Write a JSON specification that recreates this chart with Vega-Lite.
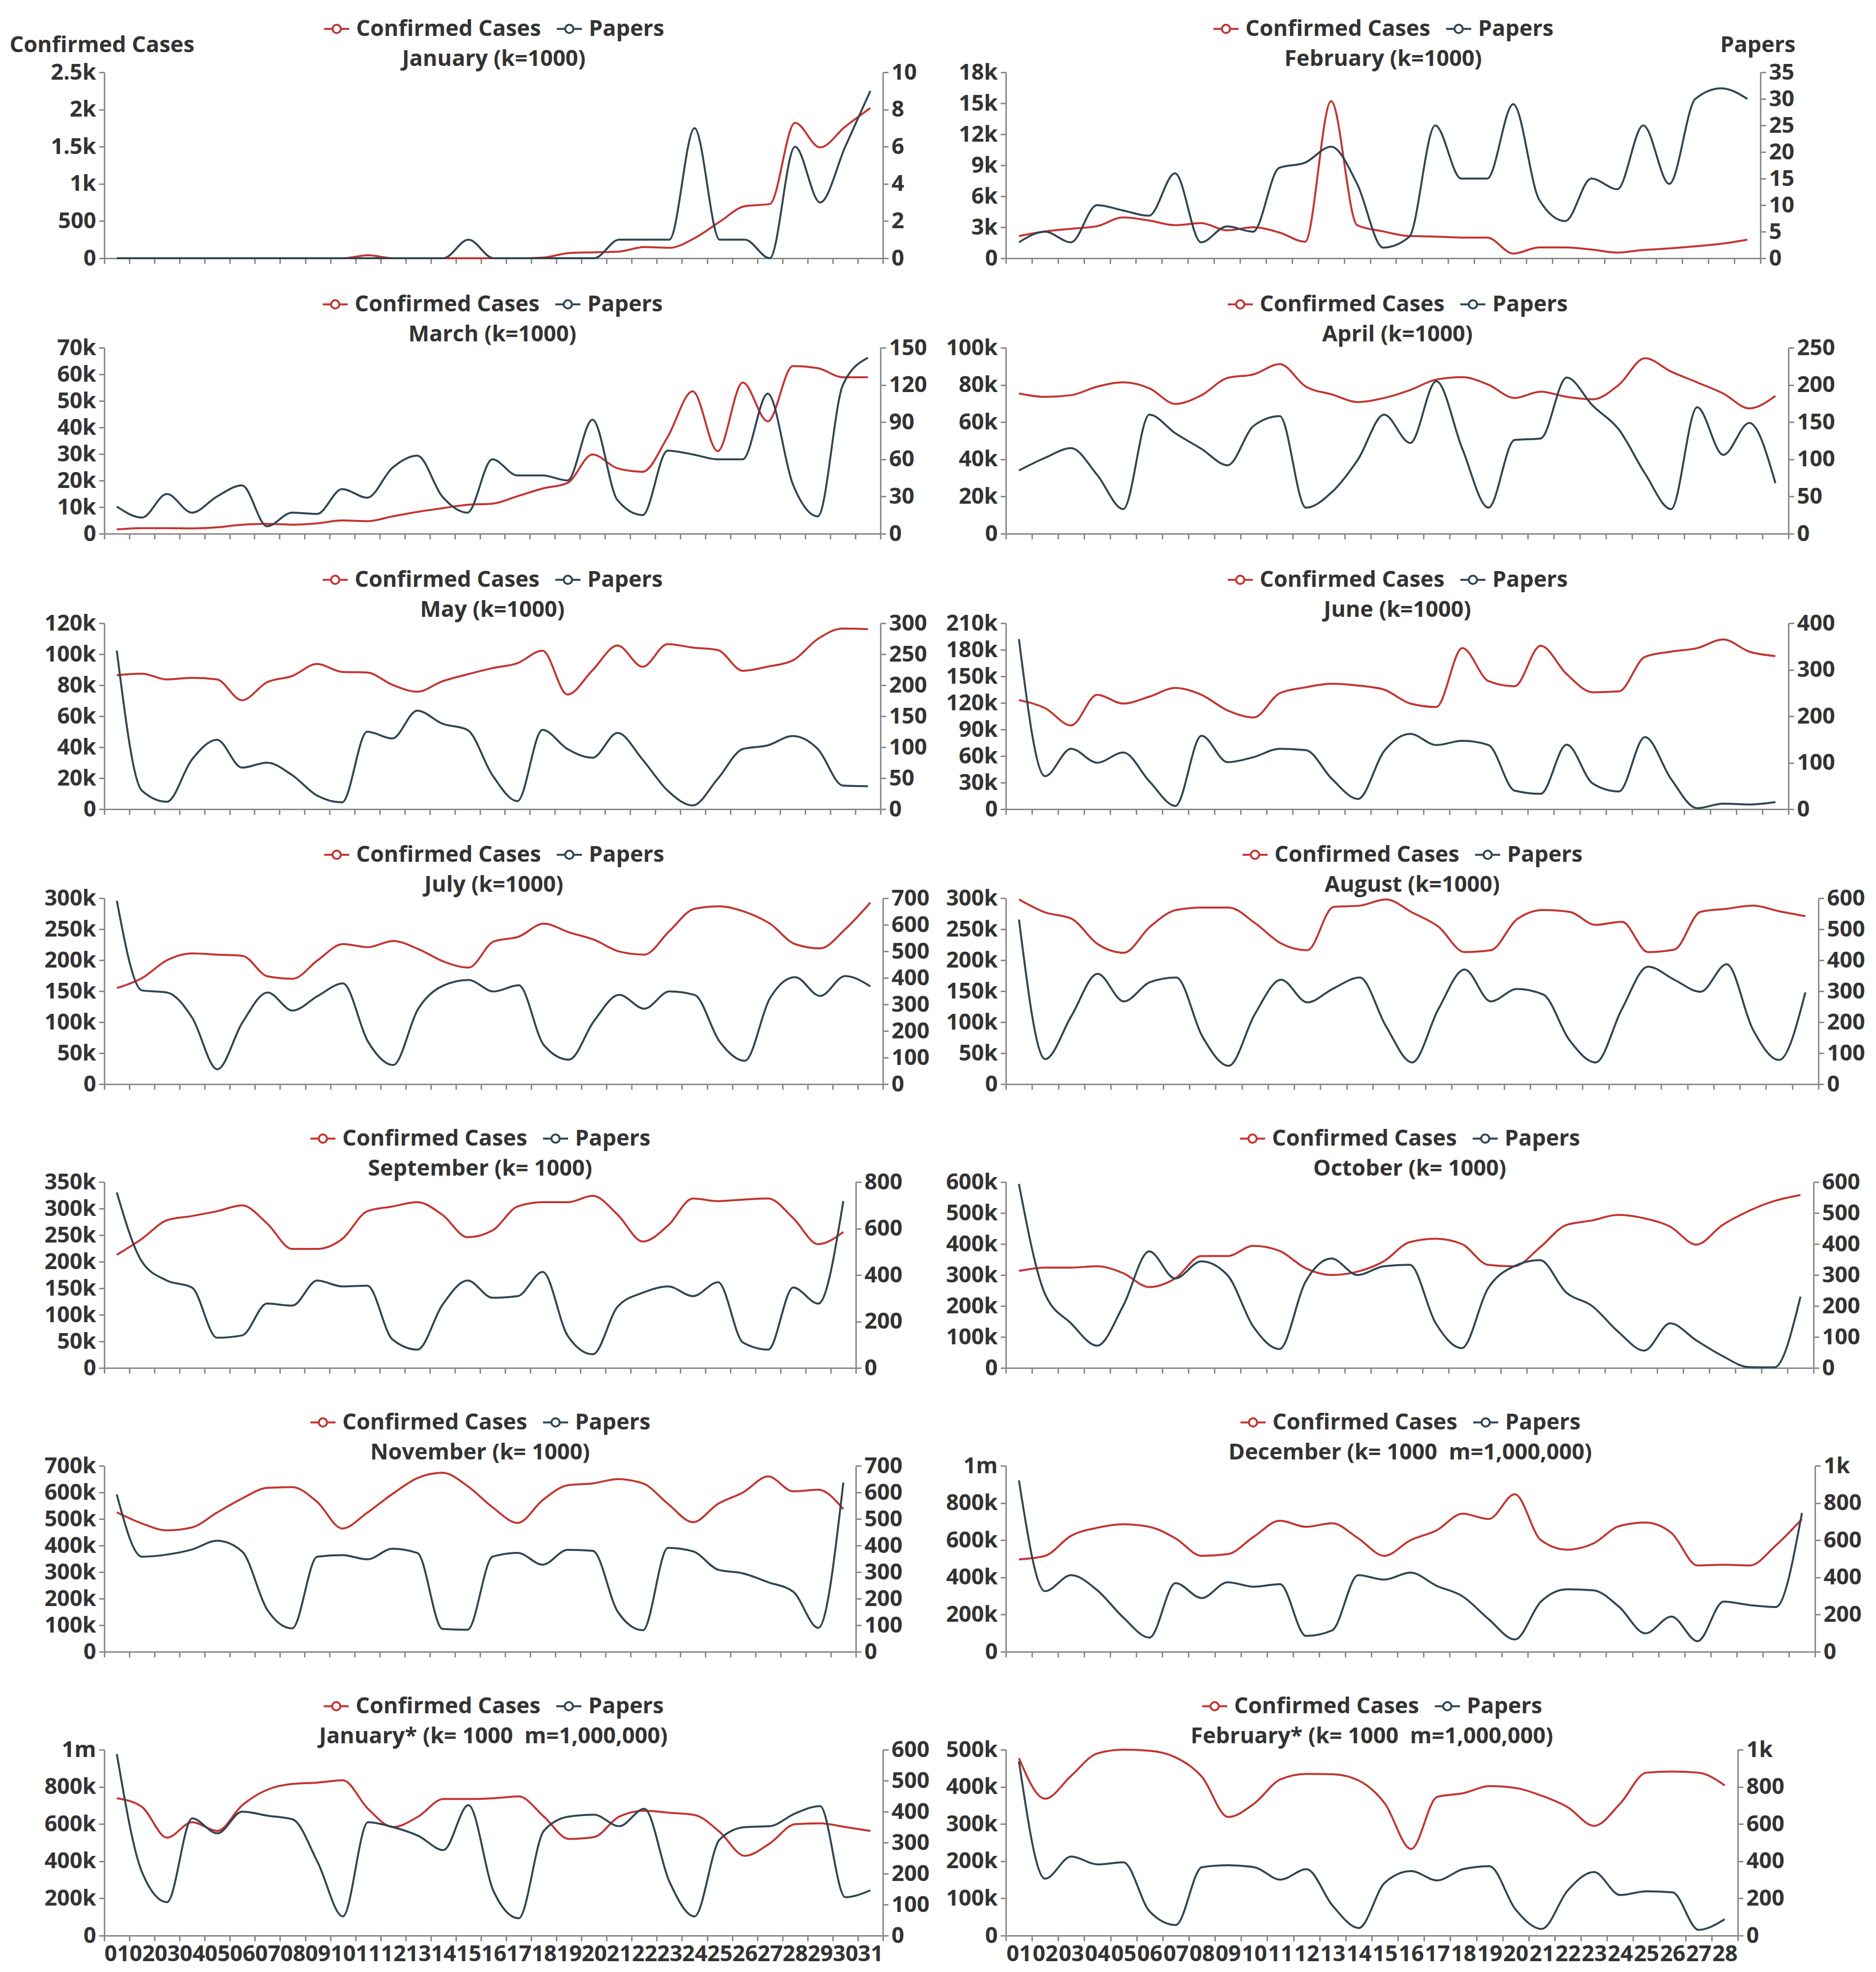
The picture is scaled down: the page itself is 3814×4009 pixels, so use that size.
{
"$schema": "https://vega.github.io/schema/vega-lite/v6.json",
"background": "white",
"padding": {"left": 19, "top": 31, "right": 10, "bottom": 5},
"bounds": "flush",
"spacing": 1679,
"resolve": {"scale": {"color": "independent"}, "legend": {"color": "independent"}},
"config": {
  "view": {"stroke": null},
  "font": "Open Sans",
  "axis": {"grid": false, "domainColor": "#8a8a8a", "domainWidth": 3, "tickColor": "#8a8a8a", "tickWidth": 3, "tickSize": 11,
           "labelFont": "Open Sans", "labelFontSize": 45, "labelFontWeight": "bold", "labelColor": "#333333", "labelPadding": 6,
           "titleFont": "Open Sans", "titleFontSize": 45, "titleFontWeight": "bold", "titleColor": "#333333"},
  "axisY": {"labelExpr": "datum.value >= 1000000 ? (datum.value / 1000000) + 'm' : datum.value >= 1000 ? (datum.value / 1000) + 'k' : '' + datum.value"},
  "axisX": {"labelOverlap": false, "labelBound": false, "labelAngle": 0, "labelPadding": 4},
  "legend": {"orient": "top", "direction": "horizontal", "titleOrient": "bottom", "titleAnchor": "middle",
             "titleFont": "Open Sans", "titleFontSize": 45, "titleFontWeight": "bold", "titleColor": "#333333", "titlePadding": 16, "titleLimit": 3000,
             "labelFont": "Open Sans", "labelFontSize": 45, "labelFontWeight": "bold", "labelColor": "#333333", "labelLimit": 2000,
             "symbolType": "M-1,0H-0.33M0.33,0H1M-0.33,0A0.33,0.33,0,1,0,0.33,0A0.33,0.33,0,1,0,-0.33,0",
             "symbolSize": 2600, "symbolStrokeWidth": 3, "labelOffset": 12, "columnPadding": 24, "offset": 4,
             "layout": {"top": {"anchor": "middle"}}},
  "line": {"interpolate": "monotone", "strokeWidth": 4}
},
"datasets": {
"jan": [{"d":"01","c":0,"p":0},{"d":"02","c":0,"p":0},{"d":"03","c":0,"p":0},{"d":"04","c":0,"p":0},{"d":"05","c":0,"p":0},{"d":"06","c":0,"p":0},{"d":"07","c":0,"p":0},{"d":"08","c":0,"p":0},{"d":"09","c":0,"p":0},{"d":"10","c":0,"p":0},{"d":"11","c":40,"p":0},{"d":"12","c":0,"p":0},{"d":"13","c":0,"p":0},{"d":"14","c":0,"p":0},{"d":"15","c":0,"p":1},{"d":"16","c":0,"p":0},{"d":"17","c":0,"p":0},{"d":"18","c":10,"p":0},{"d":"19","c":70,"p":0},{"d":"20","c":80,"p":0},{"d":"21","c":90,"p":1},{"d":"22","c":150,"p":1},{"d":"23","c":140,"p":1},{"d":"24","c":270,"p":7},{"d":"25","c":490,"p":1},{"d":"26","c":700,"p":1},{"d":"27","c":730,"p":0},{"d":"28","c":1820,"p":6},{"d":"29","c":1490,"p":3},{"d":"30","c":1770,"p":6},{"d":"31","c":2020,"p":9}],
"feb": [{"d":"01","c":2150,"p":3},{"d":"02","c":2600,"p":5},{"d":"03","c":2850,"p":3},{"d":"04","c":3100,"p":10},{"d":"05","c":3950,"p":9},{"d":"06","c":3650,"p":8},{"d":"07","c":3200,"p":16},{"d":"08","c":3400,"p":3},{"d":"09","c":2700,"p":6},{"d":"10","c":3000,"p":5},{"d":"11","c":2500,"p":17},{"d":"12","c":1600,"p":18},{"d":"13","c":15200,"p":21},{"d":"14","c":3200,"p":14},{"d":"15","c":2600,"p":2},{"d":"16","c":2150,"p":4},{"d":"17","c":2100,"p":25},{"d":"18","c":2000,"p":15},{"d":"19","c":2000,"p":15},{"d":"20","c":450,"p":29},{"d":"21","c":1050,"p":11},{"d":"22","c":1050,"p":7},{"d":"23","c":850,"p":15},{"d":"24","c":550,"p":13},{"d":"25","c":800,"p":25},{"d":"26","c":950,"p":14},{"d":"27","c":1150,"p":30},{"d":"28","c":1400,"p":32},{"d":"29","c":1800,"p":30}],
"mar": [{"d":"01","c":1600,"p":22},{"d":"02","c":2100,"p":13},{"d":"03","c":2100,"p":32},{"d":"04","c":2000,"p":17},{"d":"05","c":2400,"p":30},{"d":"06","c":3400,"p":39},{"d":"07","c":3700,"p":6},{"d":"08","c":3400,"p":17},{"d":"09","c":3900,"p":16},{"d":"10","c":5000,"p":36},{"d":"11","c":4700,"p":29},{"d":"12","c":6500,"p":53},{"d":"13","c":8200,"p":63},{"d":"14","c":9600,"p":30},{"d":"15","c":10900,"p":17},{"d":"16","c":11300,"p":60},{"d":"17","c":14100,"p":47},{"d":"18","c":17000,"p":47},{"d":"19","c":19100,"p":43},{"d":"20","c":29800,"p":92},{"d":"21","c":24600,"p":27},{"d":"22","c":23300,"p":15},{"d":"23","c":36400,"p":67},{"d":"24","c":53600,"p":64},{"d":"25","c":31100,"p":60},{"d":"26","c":56900,"p":60},{"d":"27","c":42300,"p":113},{"d":"28","c":63100,"p":40},{"d":"29","c":62300,"p":14},{"d":"30","c":58900,"p":120},{"d":"31","c":58900,"p":142}],
"apr": [{"d":"01","c":75400,"p":85},{"d":"02","c":73600,"p":102},{"d":"03","c":74500,"p":115},{"d":"04","c":79100,"p":79},{"d":"05","c":81400,"p":33},{"d":"06","c":78200,"p":160},{"d":"07","c":69800,"p":135},{"d":"08","c":74500,"p":114},{"d":"09","c":83800,"p":92},{"d":"10","c":85700,"p":145},{"d":"11","c":91200,"p":158},{"d":"12","c":79100,"p":35},{"d":"13","c":74900,"p":56},{"d":"14","c":70800,"p":100},{"d":"15","c":73000,"p":160},{"d":"16","c":77300,"p":122},{"d":"17","c":82900,"p":205},{"d":"18","c":84200,"p":114},{"d":"19","c":80100,"p":35},{"d":"20","c":73000,"p":126},{"d":"21","c":76400,"p":128},{"d":"22","c":73600,"p":210},{"d":"23","c":72300,"p":172},{"d":"24","c":80100,"p":140},{"d":"25","c":94400,"p":81},{"d":"26","c":87200,"p":33},{"d":"27","c":81400,"p":170},{"d":"28","c":75400,"p":106},{"d":"29","c":67400,"p":149},{"d":"30","c":74100,"p":68}],
"may": [{"d":"01","c":86400,"p":256},{"d":"02","c":87500,"p":30},{"d":"03","c":83700,"p":12},{"d":"04","c":84800,"p":80},{"d":"05","c":83700,"p":112},{"d":"06","c":70300,"p":67},{"d":"07","c":81900,"p":75},{"d":"08","c":85900,"p":55},{"d":"09","c":93700,"p":22},{"d":"10","c":88600,"p":11},{"d":"11","c":88200,"p":125},{"d":"12","c":80300,"p":114},{"d":"13","c":75800,"p":159},{"d":"14","c":82500,"p":138},{"d":"15","c":87000,"p":128},{"d":"16","c":91000,"p":55},{"d":"17","c":94200,"p":13},{"d":"18","c":102300,"p":128},{"d":"19","c":74000,"p":97},{"d":"20","c":89700,"p":83},{"d":"21","c":105600,"p":123},{"d":"22","c":91900,"p":80},{"d":"23","c":106500,"p":30},{"d":"24","c":104300,"p":6},{"d":"25","c":102700,"p":49},{"d":"26","c":89300,"p":97},{"d":"27","c":92000,"p":103},{"d":"28","c":96000,"p":118},{"d":"29","c":109900,"p":97},{"d":"30","c":116600,"p":38},{"d":"31","c":116200,"p":37}],
"jun": [{"d":"01","c":123200,"p":366},{"d":"02","c":114200,"p":71},{"d":"03","c":94600,"p":130},{"d":"04","c":129100,"p":100},{"d":"05","c":119300,"p":122},{"d":"06","c":127100,"p":60},{"d":"07","c":136900,"p":7},{"d":"08","c":129100,"p":158},{"d":"09","c":111500,"p":101},{"d":"10","c":103600,"p":112},{"d":"11","c":131000,"p":130},{"d":"12","c":137700,"p":127},{"d":"13","c":141600,"p":65},{"d":"14","c":139600,"p":22},{"d":"15","c":135000,"p":125},{"d":"16","c":119300,"p":162},{"d":"17","c":115400,"p":138},{"d":"18","c":181900,"p":147},{"d":"19","c":144700,"p":138},{"d":"20","c":138800,"p":40},{"d":"21","c":184600,"p":33},{"d":"22","c":152500,"p":139},{"d":"23","c":132000,"p":55},{"d":"24","c":133000,"p":38},{"d":"25","c":172000,"p":155},{"d":"26","c":177900,"p":65},{"d":"27","c":181900,"p":2},{"d":"28","c":191700,"p":12},{"d":"29","c":177900,"p":10},{"d":"30","c":172900,"p":15}],
"jul": [{"d":"01","c":155000,"p":690},{"d":"02","c":171000,"p":353},{"d":"03","c":200000,"p":345},{"d":"04","c":211000,"p":250},{"d":"05","c":209000,"p":56},{"d":"06","c":207000,"p":232},{"d":"07","c":174000,"p":345},{"d":"08","c":170000,"p":277},{"d":"09","c":200000,"p":332},{"d":"10","c":226000,"p":379},{"d":"11","c":221000,"p":160},{"d":"12","c":231000,"p":72},{"d":"13","c":218000,"p":284},{"d":"14","c":198000,"p":371},{"d":"15","c":188000,"p":392},{"d":"16","c":230000,"p":349},{"d":"17","c":238000,"p":372},{"d":"18","c":259000,"p":147},{"d":"19","c":245000,"p":92},{"d":"20","c":233000,"p":238},{"d":"21","c":214000,"p":336},{"d":"22","c":209000,"p":284},{"d":"23","c":247000,"p":349},{"d":"24","c":283000,"p":336},{"d":"25","c":287000,"p":160},{"d":"26","c":278000,"p":88},{"d":"27","c":259000,"p":323},{"d":"28","c":226000,"p":403},{"d":"29","c":219000,"p":332},{"d":"30","c":250000,"p":407},{"d":"31","c":293000,"p":368}],
"aug": [{"d":"01","c":298000,"p":531},{"d":"02","c":277000,"p":81},{"d":"03","c":267000,"p":220},{"d":"04","c":226000,"p":356},{"d":"05","c":212000,"p":267},{"d":"06","c":254000,"p":329},{"d":"07","c":281000,"p":344},{"d":"08","c":285000,"p":153},{"d":"09","c":285000,"p":59},{"d":"10","c":260000,"p":226},{"d":"11","c":227000,"p":337},{"d":"12","c":216000,"p":264},{"d":"13","c":286000,"p":309},{"d":"14","c":288000,"p":344},{"d":"15","c":298000,"p":187},{"d":"16","c":277000,"p":70},{"d":"17","c":254000,"p":242},{"d":"18","c":213000,"p":370},{"d":"19","c":216000,"p":267},{"d":"20","c":266000,"p":307},{"d":"21","c":281000,"p":289},{"d":"22","c":278000,"p":142},{"d":"23","c":257000,"p":70},{"d":"24","c":262000,"p":242},{"d":"25","c":213000,"p":379},{"d":"26","c":217000,"p":337},{"d":"27","c":278000,"p":298},{"d":"28","c":283000,"p":387},{"d":"29","c":288000,"p":176},{"d":"30","c":279000,"p":78},{"d":"31","c":271000,"p":296}],
"sep": [{"d":"01","c":213000,"p":755},{"d":"02","c":243000,"p":458},{"d":"03","c":278000,"p":376},{"d":"04","c":286000,"p":346},{"d":"05","c":295000,"p":130},{"d":"06","c":306000,"p":140},{"d":"07","c":272000,"p":277},{"d":"08","c":224000,"p":268},{"d":"09","c":224000,"p":376},{"d":"10","c":243000,"p":351},{"d":"11","c":295000,"p":354},{"d":"12","c":304000,"p":123},{"d":"13","c":312000,"p":79},{"d":"14","c":288000,"p":272},{"d":"15","c":246000,"p":376},{"d":"16","c":259000,"p":302},{"d":"17","c":304000,"p":309},{"d":"18","c":312000,"p":413},{"d":"19","c":312000,"p":138},{"d":"20","c":324000,"p":59},{"d":"21","c":288000,"p":265},{"d":"22","c":238000,"p":324},{"d":"23","c":268000,"p":351},{"d":"24","c":319000,"p":309},{"d":"25","c":314000,"p":369},{"d":"26","c":317000,"p":109},{"d":"27","c":319000,"p":79},{"d":"28","c":282000,"p":346},{"d":"29","c":233000,"p":277},{"d":"30","c":256000,"p":718}],
"oct": [{"d":"01","c":313000,"p":594},{"d":"02","c":324000,"p":239},{"d":"03","c":324000,"p":144},{"d":"04","c":328000,"p":72},{"d":"05","c":306000,"p":200},{"d":"06","c":261000,"p":376},{"d":"07","c":289000,"p":289},{"d":"08","c":361000,"p":344},{"d":"09","c":361000,"p":300},{"d":"10","c":394000,"p":133},{"d":"11","c":378000,"p":61},{"d":"12","c":322000,"p":278},{"d":"13","c":300000,"p":353},{"d":"14","c":311000,"p":300},{"d":"15","c":344000,"p":328},{"d":"16","c":406000,"p":333},{"d":"17","c":417000,"p":144},{"d":"18","c":400000,"p":64},{"d":"19","c":333000,"p":256},{"d":"20","c":328000,"p":328},{"d":"21","c":389000,"p":348},{"d":"22","c":461000,"p":244},{"d":"23","c":476000,"p":200},{"d":"24","c":494000,"p":117},{"d":"25","c":483000,"p":56},{"d":"26","c":456000,"p":144},{"d":"27","c":398000,"p":89},{"d":"28","c":461000,"p":39},{"d":"29","c":506000,"p":3},{"d":"30","c":539000,"p":2},{"d":"31","c":558000,"p":230}],
"nov": [{"d":"01","c":525000,"p":592},{"d":"02","c":483000,"p":358},{"d":"03","c":457000,"p":366},{"d":"04","c":468000,"p":385},{"d":"05","c":524000,"p":418},{"d":"06","c":577000,"p":378},{"d":"07","c":617000,"p":159},{"d":"08","c":620000,"p":88},{"d":"09","c":564000,"p":358},{"d":"10","c":464000,"p":364},{"d":"11","c":524000,"p":348},{"d":"12","c":594000,"p":388},{"d":"13","c":654000,"p":372},{"d":"14","c":674000,"p":86},{"d":"15","c":624000,"p":83},{"d":"16","c":544000,"p":358},{"d":"17","c":485000,"p":372},{"d":"18","c":571000,"p":328},{"d":"19","c":627000,"p":384},{"d":"20","c":634000,"p":380},{"d":"21","c":650000,"p":150},{"d":"22","c":634000,"p":81},{"d":"23","c":557000,"p":391},{"d":"24","c":488000,"p":378},{"d":"25","c":557000,"p":309},{"d":"26","c":600000,"p":295},{"d":"27","c":660000,"p":262},{"d":"28","c":604000,"p":226},{"d":"29","c":610000,"p":90},{"d":"30","c":537000,"p":637}],
"dec": [{"d":"01","c":497000,"p":922},{"d":"02","c":516000,"p":326},{"d":"03","c":624000,"p":412},{"d":"04","c":667000,"p":331},{"d":"05","c":686000,"p":184},{"d":"06","c":672000,"p":76},{"d":"07","c":610000,"p":369},{"d":"08","c":516000,"p":289},{"d":"09","c":525000,"p":374},{"d":"10","c":619000,"p":350},{"d":"11","c":705000,"p":364},{"d":"12","c":672000,"p":85},{"d":"13","c":691000,"p":115},{"d":"14","c":610000,"p":412},{"d":"15","c":516000,"p":388},{"d":"16","c":600000,"p":426},{"d":"17","c":653000,"p":355},{"d":"18","c":743000,"p":298},{"d":"19","c":714000,"p":175},{"d":"20","c":847000,"p":66},{"d":"21","c":600000,"p":270},{"d":"22","c":549000,"p":336},{"d":"23","c":582000,"p":331},{"d":"24","c":676000,"p":241},{"d":"25","c":695000,"p":99},{"d":"26","c":639000,"p":189},{"d":"27","c":464000,"p":57},{"d":"28","c":468000,"p":270},{"d":"29","c":464000,"p":251},{"d":"30","c":572000,"p":241},{"d":"31","c":714000,"p":747}],
"jan2": [{"d":"01","c":739000,"p":586},{"d":"02","c":692000,"p":205},{"d":"03","c":527000,"p":108},{"d":"04","c":610000,"p":378},{"d":"05","c":563000,"p":330},{"d":"06","c":702000,"p":400},{"d":"07","c":785000,"p":387},{"d":"08","c":816000,"p":375},{"d":"09","c":823000,"p":236},{"d":"10","c":835000,"p":62},{"d":"11","c":682000,"p":366},{"d":"12","c":584000,"p":350},{"d":"13","c":640000,"p":322},{"d":"14","c":735000,"p":276},{"d":"15","c":735000,"p":421},{"d":"16","c":739000,"p":143},{"d":"17","c":749000,"p":56},{"d":"18","c":640000,"p":338},{"d":"19","c":520000,"p":384},{"d":"20","c":530000,"p":390},{"d":"21","c":640000,"p":353},{"d":"22","c":671000,"p":409},{"d":"23","c":661000,"p":174},{"d":"24","c":649000,"p":62},{"d":"25","c":558000,"p":310},{"d":"26","c":429000,"p":350},{"d":"27","c":496000,"p":353},{"d":"28","c":599000,"p":394},{"d":"29","c":604000,"p":418},{"d":"30","c":584000,"p":124},{"d":"31","c":563000,"p":146}],
"feb2": [{"d":"01","c":477000,"p":938},{"d":"02","c":368000,"p":306},{"d":"03","c":430000,"p":425},{"d":"04","c":490000,"p":383},{"d":"05","c":500000,"p":394},{"d":"06","c":497000,"p":130},{"d":"07","c":479000,"p":57},{"d":"08","c":427000,"p":368},{"d":"09","c":319000,"p":378},{"d":"10","c":355000,"p":368},{"d":"11","c":420000,"p":301},{"d":"12","c":435000,"p":357},{"d":"13","c":434000,"p":161},{"d":"14","c":417000,"p":41},{"d":"15","c":355000,"p":285},{"d":"16","c":233000,"p":347},{"d":"17","c":373000,"p":297},{"d":"18","c":383000,"p":358},{"d":"19","c":402000,"p":373},{"d":"20","c":397000,"p":140},{"d":"21","c":376000,"p":36},{"d":"22","c":345000,"p":244},{"d":"23","c":295000,"p":342},{"d":"24","c":355000,"p":218},{"d":"25","c":438000,"p":238},{"d":"26","c":441000,"p":233},{"d":"27","c":438000,"p":31},{"d":"28","c":404000,"p":88}]
},
"vconcat": [
{"vconcat": [
{"hconcat": [
 {"data": {"name": "jan"}, "width": 1583, "height": 378,
  "encoding": {"x": {"field": "d", "type": "ordinal", "bandPosition": 0.5, "scale": {"type": "band", "paddingInner": 0, "paddingOuter": 0}, "axis": {"title": null, "labels": false, "tickBand": "extent"}}},
  "layer": [
   {"mark": {"type": "line"}, "encoding": {"y": {"field": "c", "type": "quantitative", "scale": {"domain": [0, 2500], "nice": false}, "axis": {"orient": "left", "values": [0,500,1000,1500,2000,2500], "title": "Confirmed Cases", "titleAngle": 0, "titleAlign": "left", "titleBaseline": "middle", "titleX": -193, "titleY": -56}},
     "color": {"datum": "Confirmed Cases", "type": "nominal", "scale": {"domain": ["Confirmed Cases", "Papers"], "range": ["#c23531", "#2f4554"]}, "legend": {"title": "January (k=1000)"}}}},
   {"mark": {"type": "line"}, "encoding": {"y": {"field": "p", "type": "quantitative", "scale": {"domain": [0, 10], "nice": false}, "axis": {"orient": "right", "values": [0,2,4,6,8,10], "title": null}}, "color": {"datum": "Papers", "type": "nominal"}}}
  ],
  "resolve": {"scale": {"y": "independent"}}},
 {"data": {"name": "feb"}, "width": 1534, "height": 378,
  "encoding": {"x": {"field": "d", "type": "ordinal", "bandPosition": 0.5, "scale": {"type": "band", "paddingInner": 0, "paddingOuter": 0}, "axis": {"title": null, "labels": false, "tickBand": "extent"}}},
  "layer": [
   {"mark": {"type": "line"}, "encoding": {"y": {"field": "c", "type": "quantitative", "scale": {"domain": [0, 18000], "nice": false}, "axis": {"orient": "left", "values": [0,3000,6000,9000,12000,15000,18000], "title": null}},
     "color": {"datum": "Confirmed Cases", "type": "nominal", "scale": {"domain": ["Confirmed Cases", "Papers"], "range": ["#c23531", "#2f4554"]}, "legend": {"title": "February (k=1000)"}}}},
   {"mark": {"type": "line"}, "encoding": {"y": {"field": "p", "type": "quantitative", "scale": {"domain": [0, 35], "nice": false}, "axis": {"orient": "right", "values": [0,5,10,15,20,25,30,35], "title": "Papers", "titleAngle": 0, "titleAlign": "right", "titleBaseline": "middle", "titleX": 71, "titleY": -56}}, "color": {"datum": "Papers", "type": "nominal"}}}
  ],
  "resolve": {"scale": {"y": "independent"}}}
 ], "spacing": 250, "bounds": "flush", "resolve": {"scale": {"color": "independent"}, "legend": {"color": "independent"}}},
{"hconcat": [
 {"data": {"name": "mar"}, "width": 1578, "height": 378,
  "encoding": {"x": {"field": "d", "type": "ordinal", "bandPosition": 0.5, "scale": {"type": "band", "paddingInner": 0, "paddingOuter": 0}, "axis": {"title": null, "labels": false, "tickBand": "extent"}}},
  "layer": [
   {"mark": {"type": "line"}, "encoding": {"y": {"field": "c", "type": "quantitative", "scale": {"domain": [0, 70000], "nice": false}, "axis": {"orient": "left", "values": [0,10000,20000,30000,40000,50000,60000,70000], "title": null}},
     "color": {"datum": "Confirmed Cases", "type": "nominal", "scale": {"domain": ["Confirmed Cases", "Papers"], "range": ["#c23531", "#2f4554"]}, "legend": {"title": "March (k=1000)"}}}},
   {"mark": {"type": "line"}, "encoding": {"y": {"field": "p", "type": "quantitative", "scale": {"domain": [0, 150], "nice": false}, "axis": {"orient": "right", "values": [0,30,60,90,120,150], "title": null}}, "color": {"datum": "Papers", "type": "nominal"}}}
  ],
  "resolve": {"scale": {"y": "independent"}}},
 {"data": {"name": "apr"}, "width": 1591, "height": 378,
  "encoding": {"x": {"field": "d", "type": "ordinal", "bandPosition": 0.5, "scale": {"type": "band", "paddingInner": 0, "paddingOuter": 0}, "axis": {"title": null, "labels": false, "tickBand": "extent"}}},
  "layer": [
   {"mark": {"type": "line"}, "encoding": {"y": {"field": "c", "type": "quantitative", "scale": {"domain": [0, 100000], "nice": false}, "axis": {"orient": "left", "values": [0,20000,40000,60000,80000,100000], "title": null}},
     "color": {"datum": "Confirmed Cases", "type": "nominal", "scale": {"domain": ["Confirmed Cases", "Papers"], "range": ["#c23531", "#2f4554"]}, "legend": {"title": "April (k=1000)"}}}},
   {"mark": {"type": "line"}, "encoding": {"y": {"field": "p", "type": "quantitative", "scale": {"domain": [0, 250], "nice": false}, "axis": {"orient": "right", "values": [0,50,100,150,200,250], "title": null}}, "color": {"datum": "Papers", "type": "nominal"}}}
  ],
  "resolve": {"scale": {"y": "independent"}}}
 ], "spacing": 255, "bounds": "flush", "resolve": {"scale": {"color": "independent"}, "legend": {"color": "independent"}}},
{"hconcat": [
 {"data": {"name": "may"}, "width": 1578, "height": 378,
  "encoding": {"x": {"field": "d", "type": "ordinal", "bandPosition": 0.5, "scale": {"type": "band", "paddingInner": 0, "paddingOuter": 0}, "axis": {"title": null, "labels": false, "tickBand": "extent"}}},
  "layer": [
   {"mark": {"type": "line"}, "encoding": {"y": {"field": "c", "type": "quantitative", "scale": {"domain": [0, 120000], "nice": false}, "axis": {"orient": "left", "values": [0,20000,40000,60000,80000,100000,120000], "title": null}},
     "color": {"datum": "Confirmed Cases", "type": "nominal", "scale": {"domain": ["Confirmed Cases", "Papers"], "range": ["#c23531", "#2f4554"]}, "legend": {"title": "May (k=1000)"}}}},
   {"mark": {"type": "line"}, "encoding": {"y": {"field": "p", "type": "quantitative", "scale": {"domain": [0, 300], "nice": false}, "axis": {"orient": "right", "values": [0,50,100,150,200,250,300], "title": null}}, "color": {"datum": "Papers", "type": "nominal"}}}
  ],
  "resolve": {"scale": {"y": "independent"}}},
 {"data": {"name": "jun"}, "width": 1591, "height": 378,
  "encoding": {"x": {"field": "d", "type": "ordinal", "bandPosition": 0.5, "scale": {"type": "band", "paddingInner": 0, "paddingOuter": 0}, "axis": {"title": null, "labels": false, "tickBand": "extent"}}},
  "layer": [
   {"mark": {"type": "line"}, "encoding": {"y": {"field": "c", "type": "quantitative", "scale": {"domain": [0, 210000], "nice": false}, "axis": {"orient": "left", "values": [0,30000,60000,90000,120000,150000,180000,210000], "title": null}},
     "color": {"datum": "Confirmed Cases", "type": "nominal", "scale": {"domain": ["Confirmed Cases", "Papers"], "range": ["#c23531", "#2f4554"]}, "legend": {"title": "June (k=1000)"}}}},
   {"mark": {"type": "line"}, "encoding": {"y": {"field": "p", "type": "quantitative", "scale": {"domain": [0, 400], "nice": false}, "axis": {"orient": "right", "values": [0,100,200,300,400], "title": null}}, "color": {"datum": "Papers", "type": "nominal"}}}
  ],
  "resolve": {"scale": {"y": "independent"}}}
 ], "spacing": 255, "bounds": "flush", "resolve": {"scale": {"color": "independent"}, "legend": {"color": "independent"}}}
], "spacing": 560, "bounds": "flush", "resolve": {"scale": {"color": "independent"}, "legend": {"color": "independent"}}},
{"vconcat": [
{"hconcat": [
 {"data": {"name": "jul"}, "width": 1583, "height": 378,
  "encoding": {"x": {"field": "d", "type": "ordinal", "bandPosition": 0.5, "scale": {"type": "band", "paddingInner": 0, "paddingOuter": 0}, "axis": {"title": null, "labels": false, "tickBand": "extent"}}},
  "layer": [
   {"mark": {"type": "line"}, "encoding": {"y": {"field": "c", "type": "quantitative", "scale": {"domain": [0, 300000], "nice": false}, "axis": {"orient": "left", "values": [0,50000,100000,150000,200000,250000,300000], "title": null}},
     "color": {"datum": "Confirmed Cases", "type": "nominal", "scale": {"domain": ["Confirmed Cases", "Papers"], "range": ["#c23531", "#2f4554"]}, "legend": {"title": "July (k=1000)"}}}},
   {"mark": {"type": "line"}, "encoding": {"y": {"field": "p", "type": "quantitative", "scale": {"domain": [0, 700], "nice": false}, "axis": {"orient": "right", "values": [0,100,200,300,400,500,600,700], "title": null}}, "color": {"datum": "Papers", "type": "nominal"}}}
  ],
  "resolve": {"scale": {"y": "independent"}}},
 {"data": {"name": "aug"}, "width": 1652, "height": 378,
  "encoding": {"x": {"field": "d", "type": "ordinal", "bandPosition": 0.5, "scale": {"type": "band", "paddingInner": 0, "paddingOuter": 0}, "axis": {"title": null, "labels": false, "tickBand": "extent"}}},
  "layer": [
   {"mark": {"type": "line"}, "encoding": {"y": {"field": "c", "type": "quantitative", "scale": {"domain": [0, 300000], "nice": false}, "axis": {"orient": "left", "values": [0,50000,100000,150000,200000,250000,300000], "title": null}},
     "color": {"datum": "Confirmed Cases", "type": "nominal", "scale": {"domain": ["Confirmed Cases", "Papers"], "range": ["#c23531", "#2f4554"]}, "legend": {"title": "August (k=1000)"}}}},
   {"mark": {"type": "line"}, "encoding": {"y": {"field": "p", "type": "quantitative", "scale": {"domain": [0, 600], "nice": false}, "axis": {"orient": "right", "values": [0,100,200,300,400,500,600], "title": null}}, "color": {"datum": "Papers", "type": "nominal"}}}
  ],
  "resolve": {"scale": {"y": "independent"}}}
 ], "spacing": 250, "bounds": "flush", "resolve": {"scale": {"color": "independent"}, "legend": {"color": "independent"}}},
{"hconcat": [
 {"data": {"name": "sep"}, "width": 1528, "height": 378,
  "encoding": {"x": {"field": "d", "type": "ordinal", "bandPosition": 0.5, "scale": {"type": "band", "paddingInner": 0, "paddingOuter": 0}, "axis": {"title": null, "labels": false, "tickBand": "extent"}}},
  "layer": [
   {"mark": {"type": "line"}, "encoding": {"y": {"field": "c", "type": "quantitative", "scale": {"domain": [0, 350000], "nice": false}, "axis": {"orient": "left", "values": [0,50000,100000,150000,200000,250000,300000,350000], "title": null}},
     "color": {"datum": "Confirmed Cases", "type": "nominal", "scale": {"domain": ["Confirmed Cases", "Papers"], "range": ["#c23531", "#2f4554"]}, "legend": {"title": "September (k= 1000)"}}}},
   {"mark": {"type": "line"}, "encoding": {"y": {"field": "p", "type": "quantitative", "scale": {"domain": [0, 800], "nice": false}, "axis": {"orient": "right", "values": [0,200,400,600,800], "title": null}}, "color": {"datum": "Papers", "type": "nominal"}}}
  ],
  "resolve": {"scale": {"y": "independent"}}},
 {"data": {"name": "oct"}, "width": 1642, "height": 378,
  "encoding": {"x": {"field": "d", "type": "ordinal", "bandPosition": 0.5, "scale": {"type": "band", "paddingInner": 0, "paddingOuter": 0}, "axis": {"title": null, "labels": false, "tickBand": "extent"}}},
  "layer": [
   {"mark": {"type": "line"}, "encoding": {"y": {"field": "c", "type": "quantitative", "scale": {"domain": [0, 600000], "nice": false}, "axis": {"orient": "left", "values": [0,100000,200000,300000,400000,500000,600000], "title": null}},
     "color": {"datum": "Confirmed Cases", "type": "nominal", "scale": {"domain": ["Confirmed Cases", "Papers"], "range": ["#c23531", "#2f4554"]}, "legend": {"title": "October (k= 1000)"}}}},
   {"mark": {"type": "line"}, "encoding": {"y": {"field": "p", "type": "quantitative", "scale": {"domain": [0, 600], "nice": false}, "axis": {"orient": "right", "values": [0,100,200,300,400,500,600], "title": null}}, "color": {"datum": "Papers", "type": "nominal"}}}
  ],
  "resolve": {"scale": {"y": "independent"}}}
 ], "spacing": 305, "bounds": "flush", "resolve": {"scale": {"color": "independent"}, "legend": {"color": "independent"}}},
{"hconcat": [
 {"data": {"name": "nov"}, "width": 1528, "height": 378,
  "encoding": {"x": {"field": "d", "type": "ordinal", "bandPosition": 0.5, "scale": {"type": "band", "paddingInner": 0, "paddingOuter": 0}, "axis": {"title": null, "labels": false, "tickBand": "extent"}}},
  "layer": [
   {"mark": {"type": "line"}, "encoding": {"y": {"field": "c", "type": "quantitative", "scale": {"domain": [0, 700000], "nice": false}, "axis": {"orient": "left", "values": [0,100000,200000,300000,400000,500000,600000,700000], "title": null}},
     "color": {"datum": "Confirmed Cases", "type": "nominal", "scale": {"domain": ["Confirmed Cases", "Papers"], "range": ["#c23531", "#2f4554"]}, "legend": {"title": "November (k= 1000)"}}}},
   {"mark": {"type": "line"}, "encoding": {"y": {"field": "p", "type": "quantitative", "scale": {"domain": [0, 700], "nice": false}, "axis": {"orient": "right", "values": [0,100,200,300,400,500,600,700], "title": null}}, "color": {"datum": "Papers", "type": "nominal"}}}
  ],
  "resolve": {"scale": {"y": "independent"}}},
 {"data": {"name": "dec"}, "width": 1645, "height": 378,
  "encoding": {"x": {"field": "d", "type": "ordinal", "bandPosition": 0.5, "scale": {"type": "band", "paddingInner": 0, "paddingOuter": 0}, "axis": {"title": null, "labels": false, "tickBand": "extent"}}},
  "layer": [
   {"mark": {"type": "line"}, "encoding": {"y": {"field": "c", "type": "quantitative", "scale": {"domain": [0, 1000000], "nice": false}, "axis": {"orient": "left", "values": [0,200000,400000,600000,800000,1000000], "title": null}},
     "color": {"datum": "Confirmed Cases", "type": "nominal", "scale": {"domain": ["Confirmed Cases", "Papers"], "range": ["#c23531", "#2f4554"]}, "legend": {"title": "December (k= 1000\u00a0 m=1,000,000)"}}}},
   {"mark": {"type": "line"}, "encoding": {"y": {"field": "p", "type": "quantitative", "scale": {"domain": [0, 1000], "nice": false}, "axis": {"orient": "right", "values": [0,200,400,600,800,1000], "title": null}}, "color": {"datum": "Papers", "type": "nominal"}}}
  ],
  "resolve": {"scale": {"y": "independent"}}}
 ], "spacing": 305, "bounds": "flush", "resolve": {"scale": {"color": "independent"}, "legend": {"color": "independent"}}},
{"hconcat": [
 {"data": {"name": "jan2"}, "width": 1583, "height": 378,
  "encoding": {"x": {"field": "d", "type": "ordinal", "bandPosition": 0.5, "scale": {"type": "band", "paddingInner": 0, "paddingOuter": 0}, "axis": {"title": null, "labels": true, "tickBand": "extent"}}},
  "layer": [
   {"mark": {"type": "line"}, "encoding": {"y": {"field": "c", "type": "quantitative", "scale": {"domain": [0, 1000000], "nice": false}, "axis": {"orient": "left", "values": [0,200000,400000,600000,800000,1000000], "title": null}},
     "color": {"datum": "Confirmed Cases", "type": "nominal", "scale": {"domain": ["Confirmed Cases", "Papers"], "range": ["#c23531", "#2f4554"]}, "legend": {"title": "January* (k= 1000\u00a0 m=1,000,000)"}}}},
   {"mark": {"type": "line"}, "encoding": {"y": {"field": "p", "type": "quantitative", "scale": {"domain": [0, 600], "nice": false}, "axis": {"orient": "right", "values": [0,100,200,300,400,500,600], "title": null}}, "color": {"datum": "Papers", "type": "nominal"}}}
  ],
  "resolve": {"scale": {"y": "independent"}}},
 {"data": {"name": "feb2"}, "width": 1488, "height": 378,
  "encoding": {"x": {"field": "d", "type": "ordinal", "bandPosition": 0.5, "scale": {"type": "band", "paddingInner": 0, "paddingOuter": 0}, "axis": {"title": null, "labels": true, "tickBand": "extent"}}},
  "layer": [
   {"mark": {"type": "line"}, "encoding": {"y": {"field": "c", "type": "quantitative", "scale": {"domain": [0, 500000], "nice": false}, "axis": {"orient": "left", "values": [0,100000,200000,300000,400000,500000], "title": null}},
     "color": {"datum": "Confirmed Cases", "type": "nominal", "scale": {"domain": ["Confirmed Cases", "Papers"], "range": ["#c23531", "#2f4554"]}, "legend": {"title": "February* (k= 1000\u00a0 m=1,000,000)"}}}},
   {"mark": {"type": "line"}, "encoding": {"y": {"field": "p", "type": "quantitative", "scale": {"domain": [0, 1000], "nice": false}, "axis": {"orient": "right", "values": [0,200,400,600,800,1000], "title": null}}, "color": {"datum": "Papers", "type": "nominal"}}}
  ],
  "resolve": {"scale": {"y": "independent"}}}
 ], "spacing": 250, "bounds": "flush", "resolve": {"scale": {"color": "independent"}, "legend": {"color": "independent"}}}
], "spacing": 577, "bounds": "flush", "resolve": {"scale": {"color": "independent"}, "legend": {"color": "independent"}}}
]
}
